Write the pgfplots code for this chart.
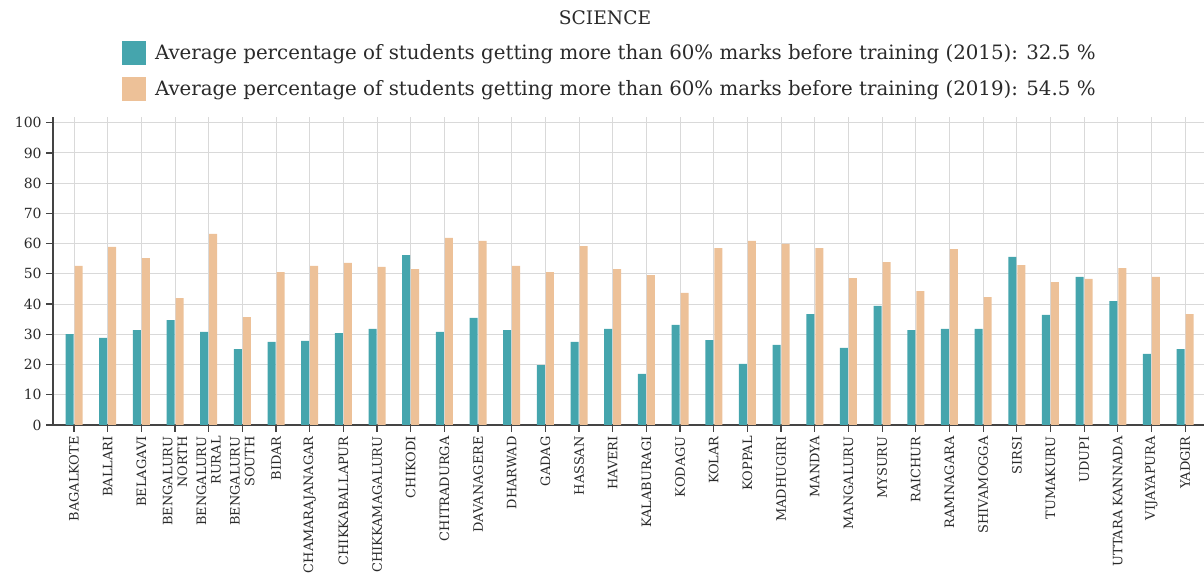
\documentclass[border=0pt]{standalone}
\usepackage{pgfplots}
\pgfplotsset{compat=1.18}
\usepackage{pgfplotstable}
\usepackage{fontspec}
\setmainfont{DejaVu Serif}

\definecolor{c2015}{HTML}{45A5AD}
\definecolor{c2019}{HTML}{EDC198}
\definecolor{gridc}{HTML}{D9D9D9}
\definecolor{axc}{HTML}{444444}
\definecolor{txtc}{HTML}{2A2A2A}

% district index, 2015, 2019
\pgfplotstableread{
idx y2015 y2019
0  30.1 52.6
1  28.8 58.9
2  31.4 55.2
3  34.7 42.0
4  30.8 63.2
5  25.1 35.7
6  27.5 50.6
7  27.8 52.6
8  30.4 53.6
9  31.8 52.3
10 56.2 51.6
11 30.8 61.9
12 35.4 60.9
13 31.4 52.6
14 19.8 50.6
15 27.5 59.2
16 31.8 51.6
17 16.9 49.6
18 33.1 43.7
19 28.1 58.5
20 20.2 60.9
21 26.5 59.9
22 36.7 58.5
23 25.5 48.6
24 39.4 53.9
25 31.4 44.3
26 31.8 58.2
27 31.8 42.3
28 55.6 52.9
29 36.4 47.3
30 49.0 48.3
31 41.0 51.9
32 23.5 49.0
33 25.1 36.7
}\scidata

\begin{document}
\begin{tikzpicture}
\path[use as bounding box] (-39.75pt,-111.75pt) rectangle (863.25pt,318.75pt);
\begin{axis}[
  scale only axis,
  width=863.25pt, height=230.8pt,
  xmin=-0.624, xmax=33.56,
  ymin=0, ymax=101.8,
  enlargelimits=false,
  ybar=0.75pt, bar width=6pt,
  xtick={0,...,33},
  xticklabels={BAGALKOTE, BALLARI, BELAGAVI, {BENGALURU\\NORTH}, {BENGALURU\\RURAL},
    {BENGALURU\\SOUTH}, BIDAR, CHAMARAJANAGAR, CHIKKABALLAPUR, CHIKKAMAGALURU,
    CHIKODI, CHITRADURGA, DAVANAGERE, DHARWAD, GADAG, HASSAN, HAVERI, KALABURAGI,
    KODAGU, KOLAR, KOPPAL, MADHUGIRI, MANDYA, MANGALURU, MYSURU, RAICHUR,
    RAMNAGARA, SHIVAMOGGA, SIRSI, TUMAKURU, UDUPI, UTTARA KANNADA, VIJAYAPURA, YADGIR},
  x tick label style={rotate=90, anchor=east, align=right, text=txtc,
    font=\fontsize{9.7}{11}\selectfont},
  ytick={0,10,...,100},
  y tick label style={text=txtc, font=\fontsize{10.5}{12}\selectfont},
  /pgf/number format/assume math mode=true,
  axis lines*=left,
  axis line style={axc, line width=1pt},
  tick align=outside,
  major tick length=5pt,
  tick style={axc, line width=0.9pt},
  grid=major,
  grid style={gridc, line width=0.75pt},
  title={SCIENCE},
  title style={at={(0.4796,1.297)}, anchor=center, text=txtc,
    font=\fontsize{14}{16}\selectfont},
  legend style={at={(0.05995,1.248)}, anchor=north west, draw=none, fill=none,
    inner sep=0pt, outer sep=0pt, row sep=9pt, text=txtc,
    nodes={inner sep=0pt}, font=\fontsize{14.85}{17}\selectfont},
  legend cell align=left,
  sq/.style={legend image code/.code={
    \fill[##1] (0pt,-9pt) rectangle (18pt,9pt);
    \path (24.75pt,0pt);}},
]
\addplot[fill=c2015, draw=none, sq] table[x=idx, y=y2015] {\scidata};
\addplot[fill=c2019, draw=none, sq] table[x=idx, y=y2019] {\scidata};
\legend{Average percentage of students getting more than 60\% marks before training (2015): 32.5 \%,
        Average percentage of students getting more than 60\% marks before training (2019): 54.5 \%}
\end{axis}
\end{tikzpicture}
\end{document}
